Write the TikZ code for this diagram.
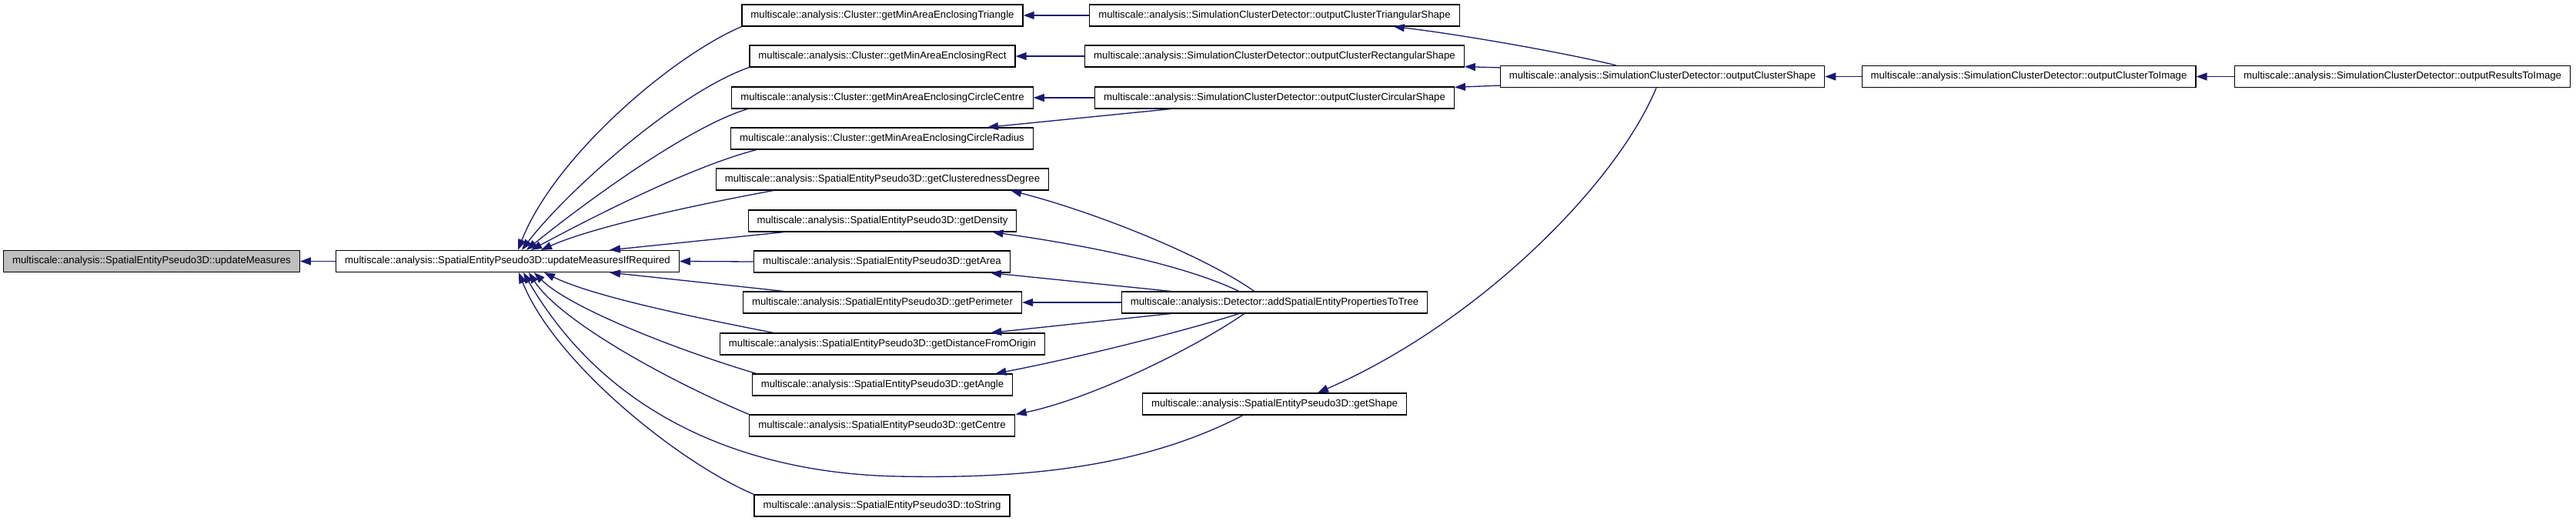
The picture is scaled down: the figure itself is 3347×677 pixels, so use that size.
\documentclass[tikz,border=0pt]{standalone}
\usepackage{fontspec}
\setmainfont{Liberation Sans}
\usetikzlibrary{arrows.meta}
\definecolor{edgeblue}{HTML}{191970}
\definecolor{nodegray}{HTML}{BFBFBF}
\begin{document}
\begin{tikzpicture}[x=1pt,y=-1pt,
  fn/.style={draw=black,line width=1.2pt,fill=white,rectangle,minimum height=28pt,inner xsep=11.5pt,inner ysep=0pt,font=\fontsize{13.2}{15}\selectfont},
  hl/.style={fn,fill=nodegray},
  edge/.style={draw=edgeblue,line width=1.3pt,-{Triangle[length=14pt,width=10pt]}}]
\useasboundingbox[fill=white] (0,0) rectangle (3347,677);
% nodes
\node[hl] (um) at (197,339.5) {multiscale::analysis::SpatialEntityPseudo3D::updateMeasures};
\node[fn] (ifr) at (659.5,339.5) {multiscale::analysis::SpatialEntityPseudo3D::updateMeasuresIfRequired};
\node[fn] (tri) at (1146.5,20) {multiscale::analysis::Cluster::getMinAreaEnclosingTriangle};
\node[fn] (rect) at (1146.5,73) {multiscale::analysis::Cluster::getMinAreaEnclosingRect};
\node[fn] (cc) at (1146.5,127) {multiscale::analysis::Cluster::getMinAreaEnclosingCircleCentre};
\node[fn] (cr) at (1146,180) {multiscale::analysis::Cluster::getMinAreaEnclosingCircleRadius};
\node[fn] (cd) at (1146.5,233) {multiscale::analysis::SpatialEntityPseudo3D::getClusterednessDegree};
\node[fn] (den) at (1146.5,287) {multiscale::analysis::SpatialEntityPseudo3D::getDensity};
\node[fn] (area) at (1146,340) {multiscale::analysis::SpatialEntityPseudo3D::getArea};
\node[fn] (per) at (1146.5,393) {multiscale::analysis::SpatialEntityPseudo3D::getPerimeter};
\node[fn] (dist) at (1146.5,447) {multiscale::analysis::SpatialEntityPseudo3D::getDistanceFromOrigin};
\node[fn] (ang) at (1146.5,500) {multiscale::analysis::SpatialEntityPseudo3D::getAngle};
\node[fn] (cen) at (1146,553) {multiscale::analysis::SpatialEntityPseudo3D::getCentre};
\node[fn] (tostr) at (1146,657) {multiscale::analysis::SpatialEntityPseudo3D::toString};
\node[fn] (otri) at (1656,20) {multiscale::analysis::SimulationClusterDetector::outputClusterTriangularShape};
\node[fn] (orect) at (1656,73) {multiscale::analysis::SimulationClusterDetector::outputClusterRectangularShape};
\node[fn] (ocirc) at (1656,127) {multiscale::analysis::SimulationClusterDetector::outputClusterCircularShape};
\node[fn] (oshape) at (2160,99.5) {multiscale::analysis::SimulationClusterDetector::outputClusterShape};
\node[fn] (otoimg) at (2636,99.5) {multiscale::analysis::SimulationClusterDetector::outputClusterToImage};
\node[fn] (ores) at (3121.5,99.5) {multiscale::analysis::SimulationClusterDetector::outputResultsToImage};
\node[fn] (adds) at (1656,393) {multiscale::analysis::Detector::addSpatialEntityPropertiesToTree};
\node[fn] (gshape) at (1656,525) {multiscale::analysis::SpatialEntityPseudo3D::getShape};
% edges into updateMeasures
\draw[edge] (ifr.west) -- (um.east);
% edges into updateMeasuresIfRequired (top)
\draw[edge] (tri.south west) .. controls (870,75) and (720,205) .. ([xshift=13.5pt]ifr.north);
\draw[edge] (rect.south west) .. controls (880,120) and (735,250) .. ([xshift=18.5pt]ifr.north);
\draw[edge] ([xshift=21pt]cc.south west) .. controls (890,166) and (745,275) .. ([xshift=24.5pt]ifr.north);
\draw[edge] ([xshift=34pt]cr.south west) .. controls (895,217) and (755,290) .. ([xshift=30.5pt]ifr.north);
\draw[edge] ([xshift=75pt]cd.south west) .. controls (900,267) and (770,295) .. ([xshift=43.5pt]ifr.north);
\draw[edge] ([xshift=47pt]den.south west) -- ([xshift=132.5pt]ifr.north);
\draw[edge] (area.west) -- (ifr.east);
% bottom
\draw[edge] ([xshift=53pt]per.north west) -- ([xshift=132.5pt]ifr.south);
\draw[edge] ([xshift=70pt]dist.north west) .. controls (900,412) and (770,385) .. ([xshift=47.5pt]ifr.south);
\draw[edge] ([xshift=6pt]ang.north west) .. controls (880,455) and (740,400) .. ([xshift=34.5pt]ifr.south);
\draw[edge] (cen.north west) .. controls (880,500) and (730,420) .. ([xshift=27.5pt]ifr.south);
\draw[edge] (tostr.north west) .. controls (880,600) and (720,470) .. ([xshift=14.5pt]ifr.south);
\draw[edge] ([xshift=131pt]gshape.south west) .. controls (1480,610) and (1320,622) .. (1167,619)
  .. controls (1000,616) and (800,560) .. ([xshift=20.5pt]ifr.south);
% third column to second
\draw[edge] (otri.west) -- (tri.east);
\draw[edge] (orect.west) -- (rect.east);
\draw[edge] (ocirc.west) -- (cc.east);
\draw[edge] ([xshift=99pt]ocirc.south west) -- ([xshift=-60pt]cr.north east);
% outputClusterShape
\draw[edge] ([xshift=151pt]oshape.north west) .. controls (2040,70) and (1900,45) .. ([xshift=-86pt]otri.south east);
\draw[edge] ([yshift=-3pt]oshape.north west) -- ([yshift=1pt]orect.south east);
\draw[edge] ([yshift=3pt]oshape.south west) -- ([yshift=-1pt]ocirc.north east);
\draw[edge] ([xshift=-8pt]oshape.south) .. controls (2100,240) and (1920,420) .. ([xshift=56pt]gshape.north);
\draw[edge] (otoimg.west) -- (oshape.east);
\draw[edge] (ores.west) -- (otoimg.east);
% addSpatialEntityPropertiesToTree
\draw[edge] ([xshift=173pt]adds.north west) .. controls (1560,330) and (1420,275) .. ([xshift=-50pt]cd.south east);
\draw[edge] ([xshift=153pt]adds.north west) .. controls (1540,345) and (1420,320) .. ([xshift=-32pt]den.south east);
\draw[edge] ([xshift=64pt]adds.north west) -- ([xshift=-26pt]area.south east);
\draw[edge] (adds.west) -- (per.east);
\draw[edge] ([xshift=64pt]adds.south west) -- ([xshift=-71pt]dist.north east);
\draw[edge] ([xshift=153pt]adds.south west) .. controls (1540,430) and (1400,465) .. ([xshift=-23pt]ang.north east);
\draw[edge] ([xshift=160pt]adds.south west) .. controls (1540,460) and (1410,520) .. ([xshift=1pt]cen.north east);
\end{tikzpicture}
\end{document}
